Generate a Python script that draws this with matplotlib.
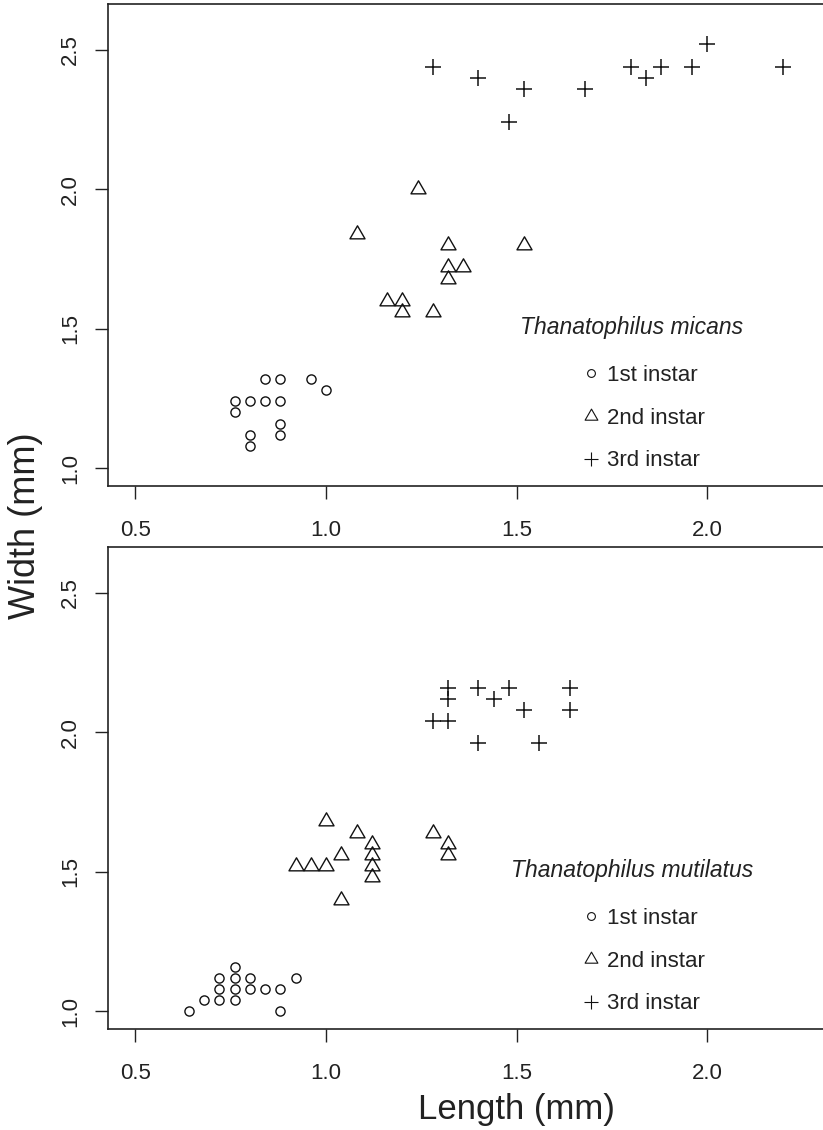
"""
larval body size of two Thanatophilus species, by instar
"""

import matplotlib
matplotlib.use("Agg")
import matplotlib.pyplot as plt
from matplotlib.lines import Line2D
from matplotlib.path import Path

plt.rcParams['font.family'] = ['Liberation Sans', 'DejaVu Sans']

# Thanatophilus micans
micans_l1_len = [0.76, 0.76, 0.80, 0.80, 0.80, 0.84, 0.84, 0.88, 0.88, 0.88, 0.88, 0.96, 1.00]
micans_l1_wid = [1.24, 1.20, 1.24, 1.12, 1.08, 1.32, 1.24, 1.32, 1.24, 1.16, 1.12, 1.32, 1.28]
micans_l2_len = [1.24, 1.08, 1.32, 1.52, 1.32, 1.36, 1.32, 1.16, 1.20, 1.20, 1.28]
micans_l2_wid = [2.00, 1.84, 1.80, 1.80, 1.72, 1.72, 1.68, 1.60, 1.60, 1.56, 1.56]
micans_l3_len = [1.28, 1.40, 1.52, 1.48, 1.68, 1.80, 1.84, 1.88, 1.96, 2.00, 2.20]
micans_l3_wid = [2.44, 2.40, 2.36, 2.24, 2.36, 2.44, 2.40, 2.44, 2.44, 2.52, 2.44]

# Thanatophilus mutilatus
mutil_l1_len = [0.64, 0.68, 0.72, 0.76, 0.72, 0.76, 0.80, 0.84, 0.88, 0.72, 0.76, 0.80, 0.76, 0.92, 0.88]
mutil_l1_wid = [1.00, 1.04, 1.04, 1.04, 1.08, 1.08, 1.08, 1.08, 1.08, 1.12, 1.12, 1.12, 1.16, 1.12, 1.00]
mutil_l2_len = [1.00, 1.08, 1.12, 1.12, 1.12, 1.12, 1.04, 0.92, 0.96, 1.00, 1.04, 1.28, 1.32, 1.32]
mutil_l2_wid = [1.68, 1.64, 1.60, 1.56, 1.52, 1.48, 1.56, 1.52, 1.52, 1.52, 1.40, 1.64, 1.60, 1.56]
mutil_l3_len = [1.32, 1.32, 1.28, 1.32, 1.40, 1.44, 1.48, 1.52, 1.40, 1.56, 1.64, 1.64]
mutil_l3_wid = [2.16, 2.12, 2.04, 2.04, 2.16, 2.12, 2.16, 2.08, 1.96, 1.96, 2.16, 2.08]

instar_labels = ['1st instar', '2nd instar', '3rd instar']
species = ['Thanatophilus micans', 'Thanatophilus mutilatus']
x_ticks = [0.5, 1.0, 1.5, 2.0]
y_ticks = [1.0, 1.5, 2.0, 2.5]

# R style equilateral triangle (pch = 2), centred on its centroid
TRI = Path([(0, 1), (-0.866, -0.5), (0.866, -0.5), (0, 1)], closed=True)
INK = '#111111'
styles = [
    dict(marker='o', ms=6.6, mew=1.0),
    dict(marker=TRI, ms=12.5, mew=1.0),
    dict(marker='+', ms=11.5, mew=1.1),
]

fig = plt.figure(figsize=(8.23, 11.3), dpi=100)
ax_top = fig.add_axes([0.1312, 0.5699, 0.9004, 0.4265])
ax_bot = fig.add_axes([0.1312, 0.0894, 0.9004, 0.4265])

panels = [
    (ax_top, species[0], [(micans_l1_len, micans_l1_wid), (micans_l2_len, micans_l2_wid), (micans_l3_len, micans_l3_wid)]),
    (ax_bot, species[1], [(mutil_l1_len, mutil_l1_wid), (mutil_l2_len, mutil_l2_wid), (mutil_l3_len, mutil_l3_wid)]),
]

for ax, name, groups in panels:
    for (xs, ys), st in zip(groups, styles):
        ax.plot(xs, ys, linestyle='none', marker=st['marker'], ms=st['ms'], mew=st['mew'],
                mfc='none', mec=INK)
    ax.set_xlim(0.428, 2.372)
    ax.set_ylim(0.936, 2.664)
    ax.set_xticks(x_ticks)
    ax.set_yticks(y_ticks)
    ax.set_xticklabels(['%.1f' % v for v in x_ticks])
    ax.set_yticklabels(['%.1f' % v for v in y_ticks])
    ax.tick_params(axis='both', direction='out', length=9.4, width=1.0, color='#222222',
                   labelsize=16, labelcolor='#222222')
    ax.tick_params(axis='x', pad=15)
    ax.tick_params(axis='y', pad=10)
    for lab in ax.get_yticklabels():
        lab.set_rotation(90)
        lab.set_va('center')
    for sp in ax.spines.values():
        sp.set_color('#222222')
        sp.set_linewidth(1.2)

    handles = [Line2D([], [], linestyle='none', marker=st['marker'], ms=st['ms'] * 0.85,
                      mew=0.8, mfc='none', mec=INK) for st in styles]
    ax.legend(handles, instar_labels, loc='center left', bbox_to_anchor=(0.640, 0.141),
              frameon=False, fontsize=16, handlelength=0.8, handletextpad=0.3,
              labelspacing=0.98, borderpad=0, borderaxespad=0, labelcolor='#222222')
    ax.text(0.707, 0.328, name, transform=ax.transAxes, ha='center', va='center',
            fontsize=16.5, style='italic', color='#222222')

fig.text(26 / 823, 1 - 526 / 1130, 'Width (mm)', rotation=90, ha='center', va='center',
         fontsize=26, color='#222222')
fig.text(516 / 823, 1 - 1110 / 1130, 'Length (mm)', ha='center', va='center',
         fontsize=25, color='#222222')

fig.savefig('out.png', dpi=100)
